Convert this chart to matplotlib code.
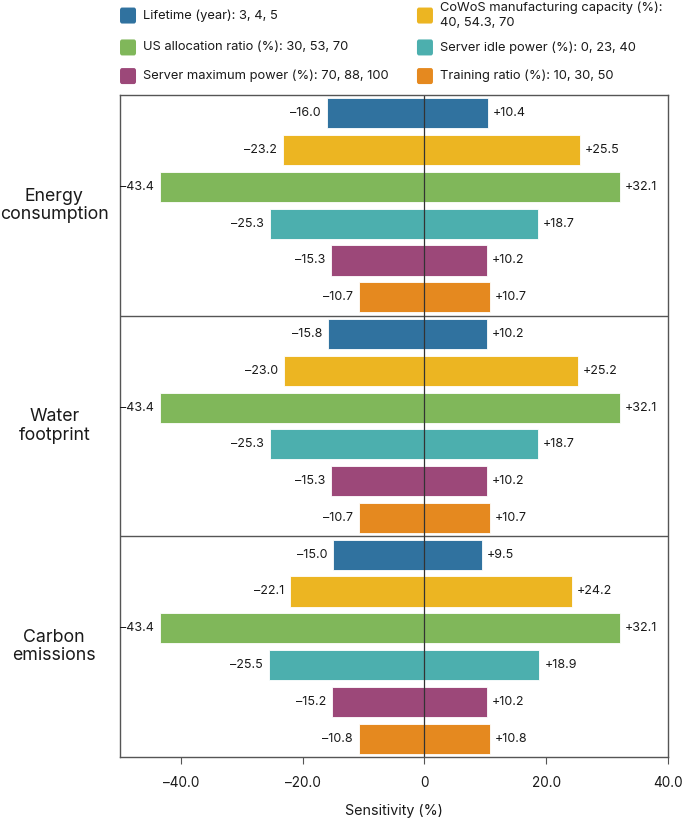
import matplotlib.pyplot as plt
import matplotlib.transforms as mtransforms
from matplotlib.patches import FancyBboxPatch

plt.rcParams['font.family'] = ['Inter', 'DejaVu Sans']

# data
groups = ['Energy\nconsumption', 'Water\nfootprint', 'Carbon\nemissions']
params = ['Lifetime (year): 3, 4, 5',
          'CoWoS manufacturing capacity (%):\n40, 54.3, 70',
          'US allocation ratio (%): 30, 53, 70',
          'Server idle power (%): 0, 23, 40',
          'Server maximum power (%): 70, 88, 100',
          'Training ratio (%): 10, 30, 50']
colors = ['#30729f', '#ecb522', '#80b75a', '#4cafae', '#9c4879', '#e5891f']
low_energy = [-16.0, -23.2, -43.4, -25.3, -15.3, -10.7]
high_energy = [10.4, 25.5, 32.1, 18.7, 10.2, 10.7]
low_water = [-15.8, -23.0, -43.4, -25.3, -15.3, -10.7]
high_water = [10.2, 25.2, 32.1, 18.7, 10.2, 10.7]
low_carbon = [-15.0, -22.1, -43.4, -25.5, -15.2, -10.8]
high_carbon = [9.5, 24.2, 32.1, 18.9, 10.2, 10.8]
xticks = [-40, -20, 0, 20, 40]
xticklabels = ['\u201340.0', '\u201320.0', '0', '20.0', '40.0']

lows = [low_energy, low_water, low_carbon]
highs = [high_energy, high_water, high_carbon]

fig = plt.figure(figsize=(6.85, 8.18), dpi=100)
ax = fig.add_axes([0.1752, 0.0746, 0.7999, 0.8093])
trans = mtransforms.blended_transform_factory(ax.transAxes, ax.transData)

n = len(params)
for g in range(len(groups)):
    for i in range(n):
        y = g * n + i + 0.5
        lo, hi = lows[g][i], highs[g][i]
        ax.barh(y, lo, height=0.82, color=colors[i], edgecolor='white', linewidth=0.6)
        ax.barh(y, hi, height=0.82, color=colors[i], edgecolor='white', linewidth=0.6)
        ax.text(lo - 1.0, y, '\u2013%.1f' % abs(lo), ha='right', va='center', fontsize=9, color='#1a1a1a')
        ax.text(hi + 0.8, y, '+%.1f' % hi, ha='left', va='center', fontsize=9, color='#1a1a1a')
    ax.text(-0.12, g * n + n / 2, groups[g], transform=trans,
            ha='center', va='center', fontsize=12.8, color='#1a1a1a', linespacing=1.1)
    if g > 0:
        ax.axhline(g * n, color='#555555', linewidth=1.0)

ax.axvline(0, color='#333333', linewidth=0.9)
ax.set_xlim(-50, 40)
ax.set_ylim(3 * n, 0)
ax.set_yticks([])
ax.set_xticks(xticks)
ax.set_xticklabels(xticklabels, fontsize=9.8, color='#1a1a1a')
ax.tick_params(axis='x', length=5, width=0.8, color='#555555', pad=9)
ax.set_xlabel('Sensitivity (%)', fontsize=10.3, color='#1a1a1a', labelpad=10)
for s in ax.spines.values():
    s.set_color('#555555')
    s.set_linewidth(1.0)

# legend drawn by hand so rows line up across columns
leg_x = [0.1752, 0.6087]
leg_y = [0.981, 0.942, 0.907]
order = [(0, 0), (1, 0), (0, 1), (1, 1), (0, 2), (1, 2)]
for i, (c, r) in enumerate(order):
    x0, y0 = leg_x[c], leg_y[r]
    w, h = 16 / 685, 16 / 818
    fig.add_artist(FancyBboxPatch((x0, y0 - h / 2), w, h, boxstyle='round,pad=0,rounding_size=0.003',
                                  transform=fig.transFigure, facecolor=colors[i], edgecolor='none'))
    fig.text(x0 + w + 7 / 685, y0, params[i], ha='left', va='center', fontsize=9.3,
             color='#1a1a1a', linespacing=1.3)

fig.savefig('out.png', dpi=100)
